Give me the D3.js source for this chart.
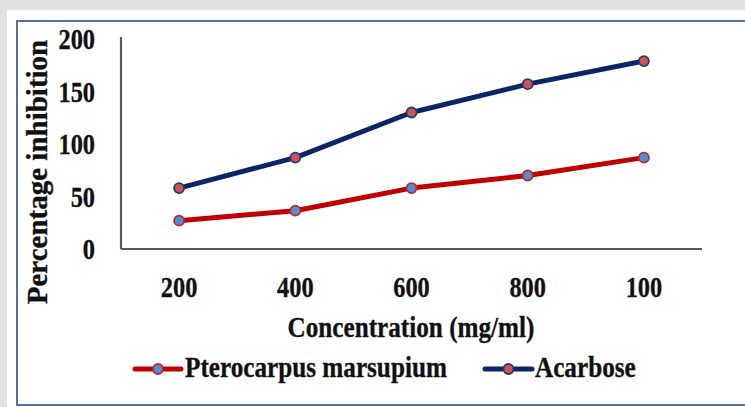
<!DOCTYPE html>
<html>
<head>
<meta charset="utf-8">
<script src="https://cdn.jsdelivr.net/npm/d3@7"></script>
<style>
  html, body { margin: 0; padding: 0; background: #e2e2e2; }
  svg { display: block; }
  text { font-family: "Liberation Serif", "Times New Roman", serif; font-weight: bold; fill: #111; stroke: #111; stroke-width: 0.35px; }
</style>
</head>
<body>
<script>
const categories = ["200", "400", "600", "800", "100"];
const pterocarpus = [27, 36.5, 58, 70, 87];
const acarbose = [58, 87, 130, 157, 179];
const yTicks = [0, 50, 100, 150, 200];
const seriesNames = ["Pterocarpus marsupium", "Acarbose"];

const W = 745, H = 407;
const svg = d3.select("body").append("svg").attr("width", W).attr("height", H);

// panel
svg.append("rect").attr("x", 7).attr("y", 10).attr("width", W - 7).attr("height", H - 10).attr("fill", "#fff");
svg.append("rect").attr("x", 17).attr("y", 21).attr("width", W).attr("height", 384)
  .attr("fill", "none").attr("stroke", "#56719e").attr("stroke-width", 2);

const x = d3.scalePoint().domain(categories).range([121, 702]).padding(0.5);
const y = d3.scaleLinear().domain([0, 200]).range([249, 39]);

function txt(g, str, tx, ty, size, sx, anchor, rot) {
  const t = g.append("text")
    .attr("transform", `translate(${tx},${ty})` + (rot ? ` rotate(${rot})` : "") + ` scale(${sx},1)`)
    .attr("text-anchor", anchor || "middle")
    .style("font-size", size + "px")
    .text(str);
  return t;
}

// axes lines via d3 axes (no ticks)
const xAxis = svg.append("g").attr("transform", "translate(0,249)")
  .call(d3.axisBottom(x).tickSize(0).tickFormat(""));
xAxis.select(".domain").attr("stroke", "#5a5a5a").attr("stroke-width", 2.2)
  .attr("d", "M121,0H702");
const yAxis = svg.append("g").attr("transform", "translate(121,0)")
  .call(d3.axisLeft(y).tickValues(yTicks).tickSize(0).tickFormat(""));
yAxis.select(".domain").attr("stroke", "#5a5a5a").attr("stroke-width", 2.2)
  .attr("d", `M0,${y(200) - 2}V${y(0)}`);

// tick labels
categories.forEach(c => txt(svg, c, x(c), 297, 29, 0.84, "middle"));
yTicks.forEach(v => txt(svg, String(v), 95, y(v) + 10, 29, 0.84, "end"));

// titles
txt(svg, "Concentration (mg/ml)", 411, 337, 30, 0.84, "middle");
txt(svg, "Percentage inhibition", 47, 172, 29, 1.0, "middle", -90);

// series
const line = d3.line().x((d, i) => x(categories[i])).y(d => y(d));
const series = [
  { name: seriesNames[0], values: pterocarpus, line: "#c00000", fill: "#4e8fd6", stroke: "#c0262a" },
  { name: seriesNames[1], values: acarbose, line: "#0d2466", fill: "#d0524f", stroke: "#1f3a7a" }
];
series.forEach(s => {
  svg.append("path").datum(s.values).attr("d", line)
    .attr("fill", "none").attr("stroke", s.line).attr("stroke-width", 5)
    .attr("stroke-linejoin", "round");
  svg.selectAll(null).data(s.values).enter().append("circle")
    .attr("cx", (d, i) => x(categories[i])).attr("cy", d => y(d)).attr("r", 5)
    .attr("fill", s.fill).attr("stroke", s.stroke).attr("stroke-width", 1.8);
});

// legend
const legendItems = [
  { s: series[0], x0: 135, x1: 181, tx: 185 },
  { s: series[1], x0: 485, x1: 532, tx: 535 }
];
legendItems.forEach(li => {
  svg.append("line").attr("x1", li.x0).attr("x2", li.x1).attr("y1", 369).attr("y2", 369)
    .attr("stroke", li.s.line).attr("stroke-width", 5).attr("stroke-linecap", "round");
  svg.append("circle").attr("cx", (li.x0 + li.x1) / 2).attr("cy", 369).attr("r", 5)
    .attr("fill", li.s.fill).attr("stroke", li.s.stroke).attr("stroke-width", 1.8);
  txt(svg, li.s.name, li.tx, 377, 30, 0.84, "start");
});
</script>
</body>
</html>
